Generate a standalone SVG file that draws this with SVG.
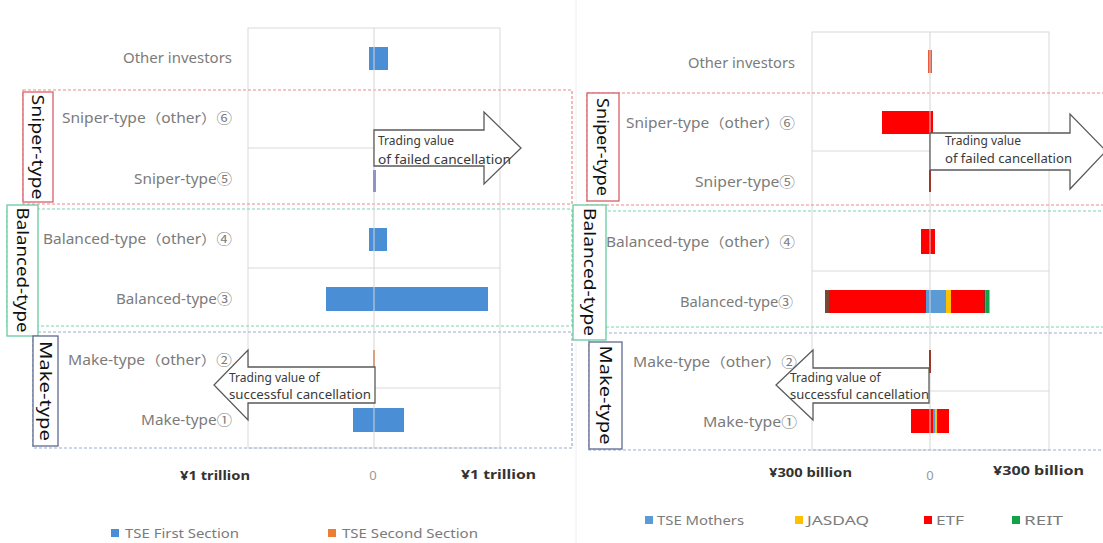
<svg xmlns="http://www.w3.org/2000/svg" width="1103" height="543" viewBox="0 0 1103 543">
  <style>
    text { font-family: "Noto Sans", "Noto Sans CJK JP", sans-serif; }
    .cat { font-size: 13.5px; fill: #7b7b7b; text-anchor: end; }
    .grid { stroke: #d9d9d9; stroke-width: 1; fill: none; }
    .axisline { stroke: #d4d4d4; stroke-width: 1; }
    .band { fill: none; stroke-width: 1.2; stroke-dasharray: 3 2; }
    .band-s { stroke: #ef8a8a; }
    .band-b { stroke: #7cd3b0; }
    .band-m { stroke: #9ea9d6; }
    .tag { fill: #ffffff; stroke-width: 1.3; }
    .tag-s { stroke: #d9606a; }
    .tag-b { stroke: #66cba0; }
    .tag-m { stroke: #5d6b8e; }
    .tagtxt { font-size: 17px; fill: #111111; text-anchor: middle; }
    .arrow { fill: #ffffff; stroke: #5a5a5a; stroke-width: 1.3; stroke-linejoin: miter; }
    .atxt { font-size: 12px; fill: #3a3a3a; }
    .axis { font-size: 13px; fill: #333333; font-weight: bold; }
    .zero { font-size: 13px; fill: #9a9a9a; text-anchor: middle; }
    .leg { font-size: 13px; fill: #7b7b7b; }
    .tse1 { fill: #4a8fd6; }
    .tse2 { fill: #ed7d31; }
    .mth { fill: #5b9bd5; }
    .jsd { fill: #ffc000; }
    .etf { fill: #ff0000; }
    .reit { fill: #12a24a; }
  </style>

  <!-- faint separator between the two panels -->
  <line x1="576" y1="0" x2="576" y2="543" stroke="#eeeeee" stroke-width="1"/>

  <!-- ===================== LEFT PANEL: TSE sections ===================== -->
  <g id="left-chart">
    <g id="left-grid">
      <rect class="grid" x="248" y="28" width="252" height="420"/>
      <line class="grid" x1="248" y1="148" x2="500" y2="148"/>
      <line class="grid" x1="248" y1="268" x2="500" y2="268"/>
      <line class="grid" x1="248" y1="388" x2="500" y2="388"/>
    </g>

    <g id="left-bands">
      <rect class="band band-s" x="23" y="90" width="549" height="114"/>
      <rect class="band band-b" x="7" y="209" width="565" height="117"/>
      <rect class="band band-m" x="33" y="332" width="539" height="116"/>
    </g>

    <g id="left-bars">
      <rect class="tse1" x="369" y="47" width="19" height="23"/>
      <rect class="tse1" x="369" y="228" width="18" height="23"/>
      <rect class="tse1" x="326" y="287" width="162" height="24"/>
      <rect class="tse1" x="353" y="408" width="51" height="24"/>
      <line class="axisline" x1="374" y1="28" x2="374" y2="448"/>
      <rect x="373" y="170" width="3" height="22" fill="#8f93c9"/>
      <rect x="373" y="350" width="2" height="22" fill="#e0a07a"/>
    </g>

    <g id="left-categories">
      <text class="cat" x="232" y="63" textLength="109" lengthAdjust="spacingAndGlyphs">Other investors</text>
      <text class="cat" x="232" y="123" textLength="170" lengthAdjust="spacingAndGlyphs">Sniper-type（other）⑥</text>
      <text class="cat" x="232" y="184" textLength="98" lengthAdjust="spacingAndGlyphs">Sniper-type⑤</text>
      <text class="cat" x="232" y="244" textLength="189" lengthAdjust="spacingAndGlyphs">Balanced-type（other）④</text>
      <text class="cat" x="232" y="304" textLength="116" lengthAdjust="spacingAndGlyphs">Balanced-type③</text>
      <text class="cat" x="232" y="365" textLength="164" lengthAdjust="spacingAndGlyphs">Make-type（other）②</text>
      <text class="cat" x="232" y="425" textLength="91" lengthAdjust="spacingAndGlyphs">Make-type①</text>
    </g>

    <g id="left-tag-sniper">
      <rect class="tag tag-s" x="23" y="92" width="30" height="110"/>
      <text class="tagtxt" transform="translate(38,147) rotate(90)" dy="0.35em" textLength="105" lengthAdjust="spacingAndGlyphs">Sniper-type</text>
    </g>
    <g id="left-tag-balanced">
      <rect class="tag tag-b" x="7" y="205" width="31" height="131"/>
      <text class="tagtxt" transform="translate(22.5,270) rotate(90)" dy="0.35em" textLength="125" lengthAdjust="spacingAndGlyphs">Balanced-type</text>
    </g>
    <g id="left-tag-make">
      <rect class="tag tag-m" x="33" y="336" width="25" height="110"/>
      <text class="tagtxt" transform="translate(45.5,391) rotate(90)" dy="0.35em" textLength="100" lengthAdjust="spacingAndGlyphs">Make-type</text>
    </g>

    <g id="left-arrow-failed">
      <polygon class="arrow" points="374,130 484,130 484,112 521,148 484,184 484,166 374,166"/>
      <text class="atxt" x="378" y="145">Trading value</text>
      <text class="atxt" x="378" y="164" textLength="133" lengthAdjust="spacingAndGlyphs">of failed cancellation</text>
    </g>
    <g id="left-arrow-success">
      <polygon class="arrow" points="375,367 248,367 248,350 214,385 248,420 248,403 375,403"/>
      <text class="atxt" x="229" y="382">Trading value of</text>
      <text class="atxt" x="229" y="399" textLength="142" lengthAdjust="spacingAndGlyphs">successful cancellation</text>
    </g>

    <g id="left-axis">
      <text class="axis" x="180" y="480" textLength="70" lengthAdjust="spacingAndGlyphs">¥1 trillion</text>
      <text class="zero" x="373" y="480">0</text>
      <text class="axis" x="461" y="479" textLength="75" lengthAdjust="spacingAndGlyphs">¥1 trillion</text>
    </g>

    <g id="left-legend">
      <rect class="tse1" x="111" y="529" width="8" height="8"/>
      <text class="leg" x="125" y="538" textLength="114" lengthAdjust="spacingAndGlyphs">TSE First Section</text>
      <rect class="tse2" x="328" y="529" width="8" height="8"/>
      <text class="leg" x="342" y="538" textLength="136" lengthAdjust="spacingAndGlyphs">TSE Second Section</text>
    </g>
  </g>

  <!-- ===================== RIGHT PANEL: other markets ===================== -->
  <g id="right-chart">
    <g id="right-grid">
      <rect class="grid" x="812" y="32" width="237" height="418"/>
      <line class="grid" x1="812" y1="151" x2="1049" y2="151"/>
      <line class="grid" x1="812" y1="271" x2="1049" y2="271"/>
      <line class="grid" x1="812" y1="391" x2="1049" y2="391"/>
    </g>

    <g id="right-bands">
      <rect class="band band-s" x="587" y="93" width="530" height="112"/>
      <rect class="band band-b" x="573" y="211" width="545" height="116"/>
      <rect class="band band-m" x="589" y="333" width="530" height="117"/>
    </g>

    <g id="right-bars">
      <rect x="928" y="50" width="4" height="23" fill="#ea5a3e"/>
      <rect class="etf" x="882" y="111" width="51" height="23"/>
      <rect class="etf" x="921" y="229" width="14" height="25"/>
      <!-- Balanced-type 3 stacked -->
      <rect x="825" y="290" width="4" height="23" fill="#7a4636"/>
      <rect class="etf" x="829" y="290" width="97" height="23"/>
      <rect class="mth" x="926" y="290" width="20" height="23"/>
      <rect class="jsd" x="946" y="290" width="5" height="23"/>
      <rect class="etf" x="951" y="290" width="33" height="23"/>
      <rect x="984" y="290" width="1.5" height="23" fill="#8a2a20"/>
      <rect class="reit" x="985.5" y="290" width="4" height="23"/>
      <!-- Make-type 1 stacked -->
      <rect class="etf" x="911" y="409" width="22" height="24"/>
      <rect class="mth" x="933" y="409" width="2" height="24"/>
      <rect class="jsd" x="935" y="409" width="2" height="24"/>
      <rect class="etf" x="937" y="409" width="12" height="24"/>
      <line class="axisline" x1="930" y1="32" x2="930" y2="450"/>
      <rect x="929" y="170" width="2" height="22" fill="#9b3a2a"/>
      <rect x="929" y="350" width="2" height="23" fill="#9b3a2a"/>
    </g>

    <g id="right-categories">
      <text class="cat" x="795" y="68" textLength="107" lengthAdjust="spacingAndGlyphs">Other investors</text>
      <text class="cat" x="795" y="128" textLength="169" lengthAdjust="spacingAndGlyphs">Sniper-type（other）⑥</text>
      <text class="cat" x="795" y="187" textLength="100" lengthAdjust="spacingAndGlyphs">Sniper-type⑤</text>
      <text class="cat" x="795" y="247" textLength="189" lengthAdjust="spacingAndGlyphs">Balanced-type（other）④</text>
      <text class="cat" x="793" y="307" textLength="113" lengthAdjust="spacingAndGlyphs">Balanced-type③</text>
      <text class="cat" x="797" y="367" textLength="164" lengthAdjust="spacingAndGlyphs">Make-type（other）②</text>
      <text class="cat" x="797" y="427" textLength="94" lengthAdjust="spacingAndGlyphs">Make-type①</text>
    </g>

    <g id="right-tag-sniper">
      <rect class="tag tag-s" x="587" y="93" width="32" height="108"/>
      <text class="tagtxt" transform="translate(603,147) rotate(90)" dy="0.35em" textLength="98" lengthAdjust="spacingAndGlyphs">Sniper-type</text>
    </g>
    <g id="right-tag-balanced">
      <rect class="tag tag-b" x="573" y="205" width="33" height="135"/>
      <text class="tagtxt" transform="translate(589.5,272) rotate(90)" dy="0.35em" textLength="128" lengthAdjust="spacingAndGlyphs">Balanced-type</text>
    </g>
    <g id="right-tag-make">
      <rect class="tag tag-m" x="589" y="342" width="33" height="107"/>
      <text class="tagtxt" transform="translate(605.5,395) rotate(90)" dy="0.35em" textLength="99" lengthAdjust="spacingAndGlyphs">Make-type</text>
    </g>

    <g id="right-arrow-failed">
      <polygon class="arrow" points="930,133 1070,133 1070,114 1106,151 1070,189 1070,170 930,170"/>
      <text class="atxt" x="945" y="145">Trading value</text>
      <text class="atxt" x="945" y="163" textLength="127" lengthAdjust="spacingAndGlyphs">of failed cancellation</text>
    </g>
    <g id="right-arrow-success">
      <polygon class="arrow" points="929,368 813,368 813,350 776,385 813,420 813,403 929,403"/>
      <text class="atxt" x="790" y="382">Trading value of</text>
      <text class="atxt" x="790" y="399" textLength="139" lengthAdjust="spacingAndGlyphs">successful cancellation</text>
    </g>

    <g id="right-axis">
      <text class="axis" x="769" y="477" textLength="83" lengthAdjust="spacingAndGlyphs">¥300 billion</text>
      <text class="zero" x="930" y="480">0</text>
      <text class="axis" x="993" y="475" textLength="91" lengthAdjust="spacingAndGlyphs">¥300 billion</text>
    </g>

    <g id="right-legend">
      <rect class="mth" x="645" y="516" width="8" height="8"/>
      <text class="leg" x="657" y="525" textLength="87" lengthAdjust="spacingAndGlyphs">TSE Mothers</text>
      <rect class="jsd" x="795" y="516" width="8" height="8"/>
      <text class="leg" x="807" y="525" textLength="62" lengthAdjust="spacingAndGlyphs">JASDAQ</text>
      <rect class="etf" x="924" y="516" width="8" height="8"/>
      <text class="leg" x="936" y="525" textLength="28" lengthAdjust="spacingAndGlyphs">ETF</text>
      <rect class="reit" x="1012" y="516" width="8" height="8"/>
      <text class="leg" x="1024" y="525" textLength="39" lengthAdjust="spacingAndGlyphs">REIT</text>
    </g>
  </g>
</svg>
